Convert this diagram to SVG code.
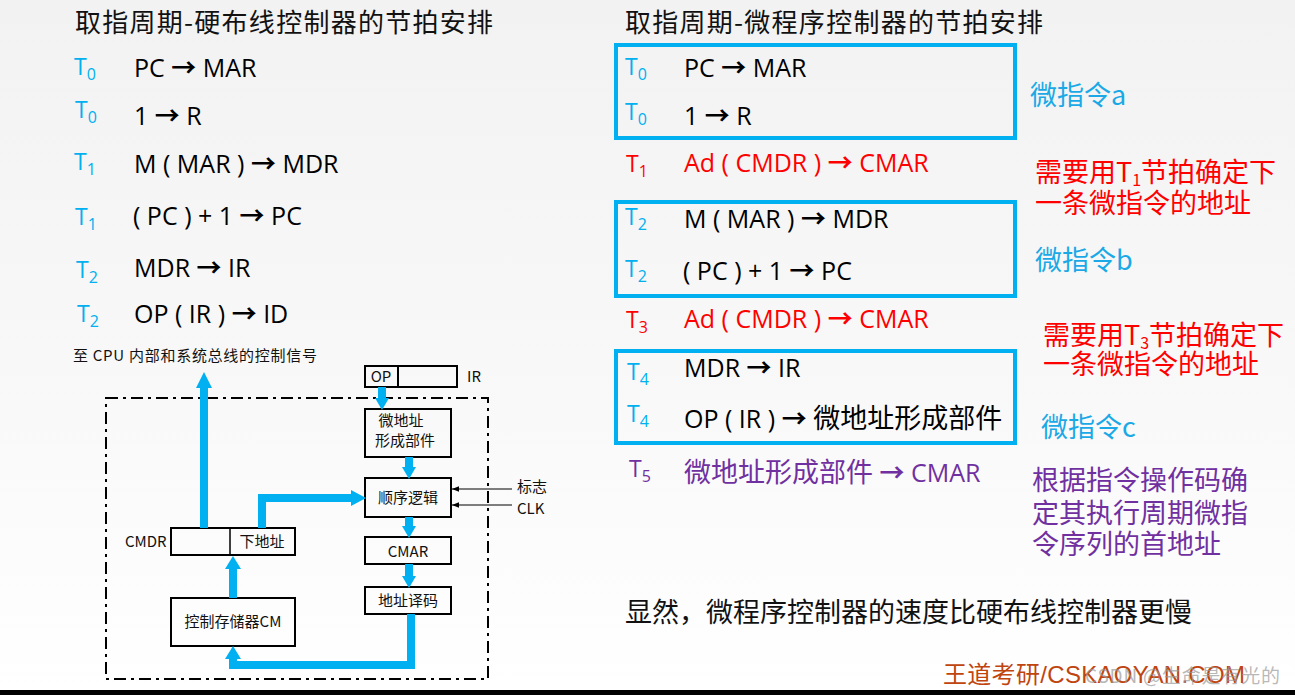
<svg xmlns="http://www.w3.org/2000/svg" width="1295" height="695" viewBox="0 0 1295 695">
<defs>
<linearGradient id="bg" x1="0" y1="0" x2="0" y2="1">
<stop offset="0" stop-color="#f2f2f2"/>
<stop offset="0.6" stop-color="#f9f9f9"/>
<stop offset="1" stop-color="#ffffff"/>
</linearGradient>
<marker id="thin" viewBox="0 0 10 10" refX="10" refY="5" markerWidth="7" markerHeight="7" orient="auto" markerUnits="userSpaceOnUse">
<path d="M0,1 L10,5 L0,9 z" fill="#000"/>
</marker>
<style>
.title{font-family:"Noto Sans CJK SC","Noto Sans",sans-serif;font-size:26px;fill:#111}
.t{font-family:"Open Sans","Noto Sans CJK SC",sans-serif;font-size:23px;fill:#00b0f0}
.e{font-family:"Open Sans","Noto Sans CJK SC",sans-serif;font-size:25px;fill:#000}
.cj{font-family:"Noto Sans CJK SC",sans-serif;font-size:27px}
.ar{font-weight:bold}
.red{fill:#ff0000}
.pur{fill:#7030a0}
.ann{font-family:"Noto Sans CJK SC","Open Sans",sans-serif;font-size:27px}
.lbl{font-family:"Noto Sans CJK SC","Open Sans",sans-serif;font-size:15px;fill:#111}
.box{fill:none;stroke:#000;stroke-width:2}
.mbox{fill:none;stroke:#00b0f0;stroke-width:4}
.flow{fill:none;stroke:#00b0f0;stroke-width:8}
.head{fill:#00b0f0}
.dash{fill:none;stroke:#000;stroke-width:2;stroke-dasharray:12 5 3 5}
.sub{font-size:16px}
</style>
</defs>
<rect x="0" y="0" width="1295" height="695" fill="url(#bg)"/>
<rect x="0" y="690" width="1295" height="5" fill="#000"/>

<!-- Left column -->
<g id="left-title"><text class="title" x="75" y="32" textLength="418">取指周期-硬布线控制器的节拍安排</text></g>
<g id="left-rows">
<text class="t" x="74" y="75">T<tspan class="sub" dy="5">0</tspan></text>
<text class="e" x="134" y="77">PC <tspan class="ar">→</tspan> MAR</text>
<text class="t" x="75" y="118">T<tspan class="sub" dy="5">0</tspan></text>
<text class="e" x="134" y="125">1 <tspan class="ar">→</tspan> R</text>
<text class="t" x="74" y="170">T<tspan class="sub" dy="5">1</tspan></text>
<text class="e" x="134" y="173">M ( MAR ) <tspan class="ar">→</tspan> MDR</text>
<text class="t" x="75" y="225">T<tspan class="sub" dy="5">1</tspan></text>
<text class="e" x="133" y="225">( PC ) + 1 <tspan class="ar">→</tspan> PC</text>
<text class="t" x="76" y="278">T<tspan class="sub" dy="5">2</tspan></text>
<text class="e" x="134" y="277">MDR <tspan class="ar">→</tspan> IR</text>
<text class="t" x="77" y="322">T<tspan class="sub" dy="5">2</tspan></text>
<text class="e" x="134" y="323">OP ( IR ) <tspan class="ar">→</tspan> ID</text>
</g>

<!-- Left diagram -->
<g id="cpu-label"><text class="lbl" x="73" y="361" textLength="244">至 CPU 内部和系统总线的控制信号</text></g>
<g id="boundary"><rect class="dash" x="106" y="398" width="382" height="281"/></g>

<g id="ir"><rect class="box" x="365" y="366" width="92" height="21"/><line x1="398" y1="366" x2="398" y2="387" stroke="#000" stroke-width="2"/>
<text class="lbl" x="381" y="382" text-anchor="middle" font-size="13">OP</text>
<text class="lbl" x="467" y="382" font-size="13">IR</text></g>
<g id="micro-addr"><rect class="box" x="365" y="409" width="86" height="48"/>
<text class="lbl" x="401" y="426" text-anchor="middle">微地址</text>
<text class="lbl" x="405" y="446" text-anchor="middle">形成部件</text></g>
<g id="seq-logic"><rect class="box" x="365" y="478" width="86" height="39"/>
<text class="lbl" x="408" y="503" text-anchor="middle">顺序逻辑</text></g>
<g id="cmar"><rect class="box" x="365" y="537" width="86" height="27"/>
<text class="lbl" x="408" y="557" text-anchor="middle" font-size="14">CMAR</text></g>
<g id="decode"><rect class="box" x="365" y="587" width="86" height="27"/>
<text class="lbl" x="408" y="606" text-anchor="middle">地址译码</text></g>
<g id="cmdr"><rect class="box" x="171" y="528" width="124" height="27"/><line x1="230" y1="528" x2="230" y2="555" stroke="#000" stroke-width="1.5"/>
<text class="lbl" x="125" y="547" font-size="14">CMDR</text>
<text class="lbl" x="262" y="547" text-anchor="middle">下地址</text></g>
<g id="cm"><rect class="box" x="171" y="598" width="124" height="48"/>
<text class="lbl" x="233" y="627" text-anchor="middle">控制存储器CM</text></g>
<g id="flag-clk"><text class="lbl" x="517" y="492">标志</text><text class="lbl" x="517" y="514" font-size="14">CLK</text></g>

<g id="connectors">
<path class="flow" d="M204,528 V386"/><path class="head" d="M196,388 L204,372 L212,388 z"/>
<path class="flow" d="M262,528 V498 H352"/><path class="head" d="M351,490 L366,498 L351,506 z"/>
<path class="flow" d="M233,598 V568"/><path class="head" d="M225,569 L233,556 L241,569 z"/>
<path class="flow" d="M411,614 V665 H233 V658"/><path class="head" d="M225,659 L233,646 L241,659 z"/>
<path class="flow" d="M382,387 V399"/><path class="head" d="M375,398 L382,410 L389,398 z"/>
<path class="flow" d="M409,457 V468"/><path class="head" d="M402,467 L409,479 L416,467 z"/>
<path class="flow" d="M409,517 V527"/><path class="head" d="M402,526 L409,538 L416,526 z"/>
<path class="flow" d="M409,564 V577"/><path class="head" d="M402,576 L409,588 L416,576 z"/>
<line x1="512" y1="489" x2="452" y2="489" stroke="#000" stroke-width="1" marker-end="url(#thin)"/>
<line x1="512" y1="505" x2="452" y2="505" stroke="#000" stroke-width="1" marker-end="url(#thin)"/>
</g>

<!-- Right column -->
<g id="right-title"><text class="title" x="625" y="32" textLength="418">取指周期-微程序控制器的节拍安排</text></g>
<g id="micro-a"><rect class="mbox" x="616" y="45" width="399" height="93"/>
<text class="t" x="625" y="75">T<tspan class="sub" dy="5">0</tspan></text>
<text class="e" x="684" y="77">PC <tspan class="ar">→</tspan> MAR</text>
<text class="t" x="625" y="120">T<tspan class="sub" dy="5">0</tspan></text>
<text class="e" x="684" y="125">1 <tspan class="ar">→</tspan> R</text></g>
<g id="row-t1"><text class="t red" x="626" y="172">T<tspan class="sub" dy="5">1</tspan></text>
<text class="e red" x="684" y="172">Ad ( CMDR ) <tspan class="ar">→</tspan> CMAR</text></g>
<g id="micro-b"><rect class="mbox" x="616" y="202" width="399" height="94"/>
<text class="t" x="625" y="225">T<tspan class="sub" dy="5">2</tspan></text>
<text class="e" x="684" y="228">M ( MAR ) <tspan class="ar">→</tspan> MDR</text>
<text class="t" x="625" y="277">T<tspan class="sub" dy="5">2</tspan></text>
<text class="e" x="683" y="280">( PC ) + 1 <tspan class="ar">→</tspan> PC</text></g>
<g id="row-t3"><text class="t red" x="626" y="328">T<tspan class="sub" dy="5">3</tspan></text>
<text class="e red" x="684" y="328">Ad ( CMDR ) <tspan class="ar">→</tspan> CMAR</text></g>
<g id="micro-c"><rect class="mbox" x="616" y="351" width="399" height="92"/>
<text class="t" x="627" y="380">T<tspan class="sub" dy="5">4</tspan></text>
<text class="e" x="684" y="377">MDR <tspan class="ar">→</tspan> IR</text>
<text class="t" x="627" y="422">T<tspan class="sub" dy="5">4</tspan></text>
<text class="e" x="684" y="428">OP ( IR ) <tspan class="ar">→</tspan> <tspan class="cj">微地址形成部件</tspan></text></g>
<g id="row-t5"><text class="t pur" x="629" y="477">T<tspan class="sub" dy="5">5</tspan></text>
<text class="e pur" x="684" y="482"><tspan class="cj">微地址形成部件</tspan> <tspan class="ar">→</tspan> CMAR</text></g>

<g id="annotations">
<text class="ann" x="1030" y="105" fill="#1aa9e6" font-size="24">微指令a</text>
<text class="ann" x="1035" y="182" fill="#ff0000">需要用T<tspan font-size="16" dy="4">1</tspan><tspan dy="-4">节拍确定下</tspan></text>
<text class="ann" x="1035" y="213" fill="#ff0000">一条微指令的地址</text>
<text class="ann" x="1035" y="270" fill="#1aa9e6" font-size="24">微指令b</text>
<text class="ann" x="1043" y="345" fill="#ff0000">需要用T<tspan font-size="16" dy="4">3</tspan><tspan dy="-4">节拍确定下</tspan></text>
<text class="ann" x="1043" y="374" fill="#ff0000">一条微指令的地址</text>
<text class="ann" x="1041" y="437" fill="#1aa9e6" font-size="24">微指令c</text>
<text class="ann" x="1032" y="490" fill="#7030a0">根据指令操作码确</text>
<text class="ann" x="1032" y="523" fill="#7030a0">定其执行周期微指</text>
<text class="ann" x="1032" y="554" fill="#7030a0">令序列的首地址</text>
</g>
<g id="conclusion"><text class="ann" x="625" y="622" fill="#111" font-size="27.5">显然，微程序控制器的速度比硬布线控制器更慢</text></g>
<g id="footer">
<text x="943" y="683" font-family="'Liberation Sans','Noto Sans CJK SC',sans-serif" font-size="24" fill="#c0440e" textLength="302">王道考研/CSKAOYAN.COM</text>
<text x="1085" y="683" font-family="'Noto Sans CJK SC',sans-serif" font-size="19" fill="#999" fill-opacity="0.7" textLength="195">CSDN @生命是有光的</text>
</g>
</svg>
